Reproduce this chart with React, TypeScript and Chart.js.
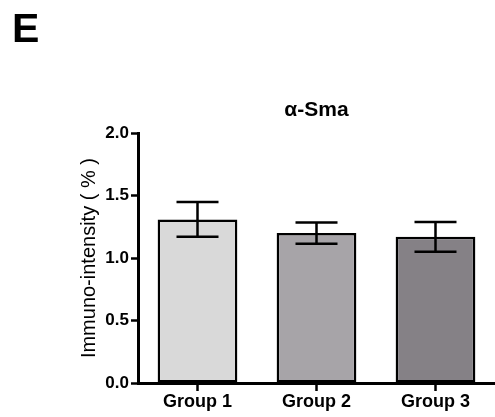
import React, { useEffect, useRef } from "react";
import { Chart, registerables } from "chart.js";

Chart.register(...registerables);

const panelLetter = "E";
const chartTitle = "α-Sma";
const yAxisTitle = "Immuno-intensity ( % )";
const categories = ["Group 1", "Group 2", "Group 3"];
const meanValues = [1.31, 1.2, 1.17];
const semValues = [0.14, 0.085, 0.12];
const barColors = ["#d9d9d9", "#a7a4a8", "#858186"];
const yTicks = [0, 0.5, 1.0, 1.5, 2.0];

const FONT = "Arial, 'Liberation Sans', sans-serif";

const errorBarPlugin = {
  id: "errorBars",
  afterDatasetsDraw(chart: any) {
    const meta = chart.getDatasetMeta(0);
    const yScale = chart.scales.y;
    const ctx = chart.ctx;
    ctx.save();
    ctx.strokeStyle = "#000";
    ctx.lineWidth = 2.5;
    meta.data.forEach((bar: any, i: number) => {
      const x = bar.x;
      const top = yScale.getPixelForValue(meanValues[i] + semValues[i]);
      const bottom = yScale.getPixelForValue(meanValues[i] - semValues[i]);
      const half = 21;
      ctx.beginPath();
      ctx.moveTo(x, top);
      ctx.lineTo(x, bottom);
      ctx.moveTo(x - half, top);
      ctx.lineTo(x + half, top);
      ctx.moveTo(x - half, bottom);
      ctx.lineTo(x + half, bottom);
      ctx.stroke();
    });
    ctx.restore();
  },
};

const panelLetterPlugin = {
  id: "panelLetter",
  afterDraw(chart: any) {
    const ctx = chart.ctx;
    ctx.save();
    ctx.fillStyle = "#000";
    ctx.font = `bold 41px ${FONT}`;
    ctx.textBaseline = "alphabetic";
    ctx.textAlign = "left";
    ctx.fillText(panelLetter, 12, 42);
    ctx.restore();
  },
};

export default function App() {
  const canvasRef = useRef<HTMLCanvasElement | null>(null);

  useEffect(() => {
    if (!canvasRef.current) return;
    const chart = new Chart(canvasRef.current, {
      type: "bar",
      data: {
        labels: categories,
        datasets: [
          {
            data: meanValues,
            backgroundColor: barColors,
            borderColor: "#000",
            borderWidth: 2.5,
            borderSkipped: false,
            categoryPercentage: 1,
            barPercentage: 0.67,
          },
        ],
      },
      options: {
        responsive: false,
        animation: false,
        layout: { padding: { left: 0, right: -4, top: 0, bottom: 0 } },
        plugins: {
          legend: { display: false },
          tooltip: { enabled: false },
          title: {
            display: true,
            text: chartTitle,
            fullSize: false,
            color: "#000",
            font: { family: FONT, size: 21, weight: "bold" },
            padding: { top: 98, bottom: 10 },
          },
        },
        scales: {
          x: {
            type: "category",
            offset: true,
            afterFit(scale: any) {
              scale.height = 34;
            },
            grid: {
              display: true,
              drawOnChartArea: false,
              drawTicks: true,
              tickLength: 8,
              tickWidth: 2.5,
              tickColor: "#000",
              offset: false,
            },
            border: { display: true, color: "#000", width: 3 },
            ticks: {
              color: "#000",
              font: { family: FONT, size: 18, weight: "bold" },
              padding: 0,
              maxRotation: 0,
            },
          },
          y: {
            min: 0,
            max: 2,
            afterFit(scale: any) {
              scale.width = 138;
            },
            afterBuildTicks(scale: any) {
              scale.ticks = yTicks.map((v) => ({ value: v }));
            },
            grid: {
              display: true,
              drawOnChartArea: false,
              drawTicks: true,
              tickLength: 7,
              tickWidth: 2.5,
              tickColor: "#000",
            },
            border: { display: true, color: "#000", width: 3 },
            ticks: {
              color: "#000",
              font: { family: FONT, size: 17, weight: "bold" },
              padding: 2,
              callback: (v: any) => Number(v).toFixed(1),
            },
            title: {
              display: true,
              text: yAxisTitle,
              color: "#000",
              font: { family: FONT, size: 20 },
              padding: { top: 77, bottom: 0 },
            },
          },
        },
      },
      plugins: [errorBarPlugin, panelLetterPlugin],
    });
    return () => chart.destroy();
  }, []);

  return (
    <div style={{ position: "fixed", left: 0, top: 0, width: 495, height: 417, background: "#fff" }}>
      <canvas ref={canvasRef} width={495} height={417} style={{ display: "block" }} />
    </div>
  );
}
